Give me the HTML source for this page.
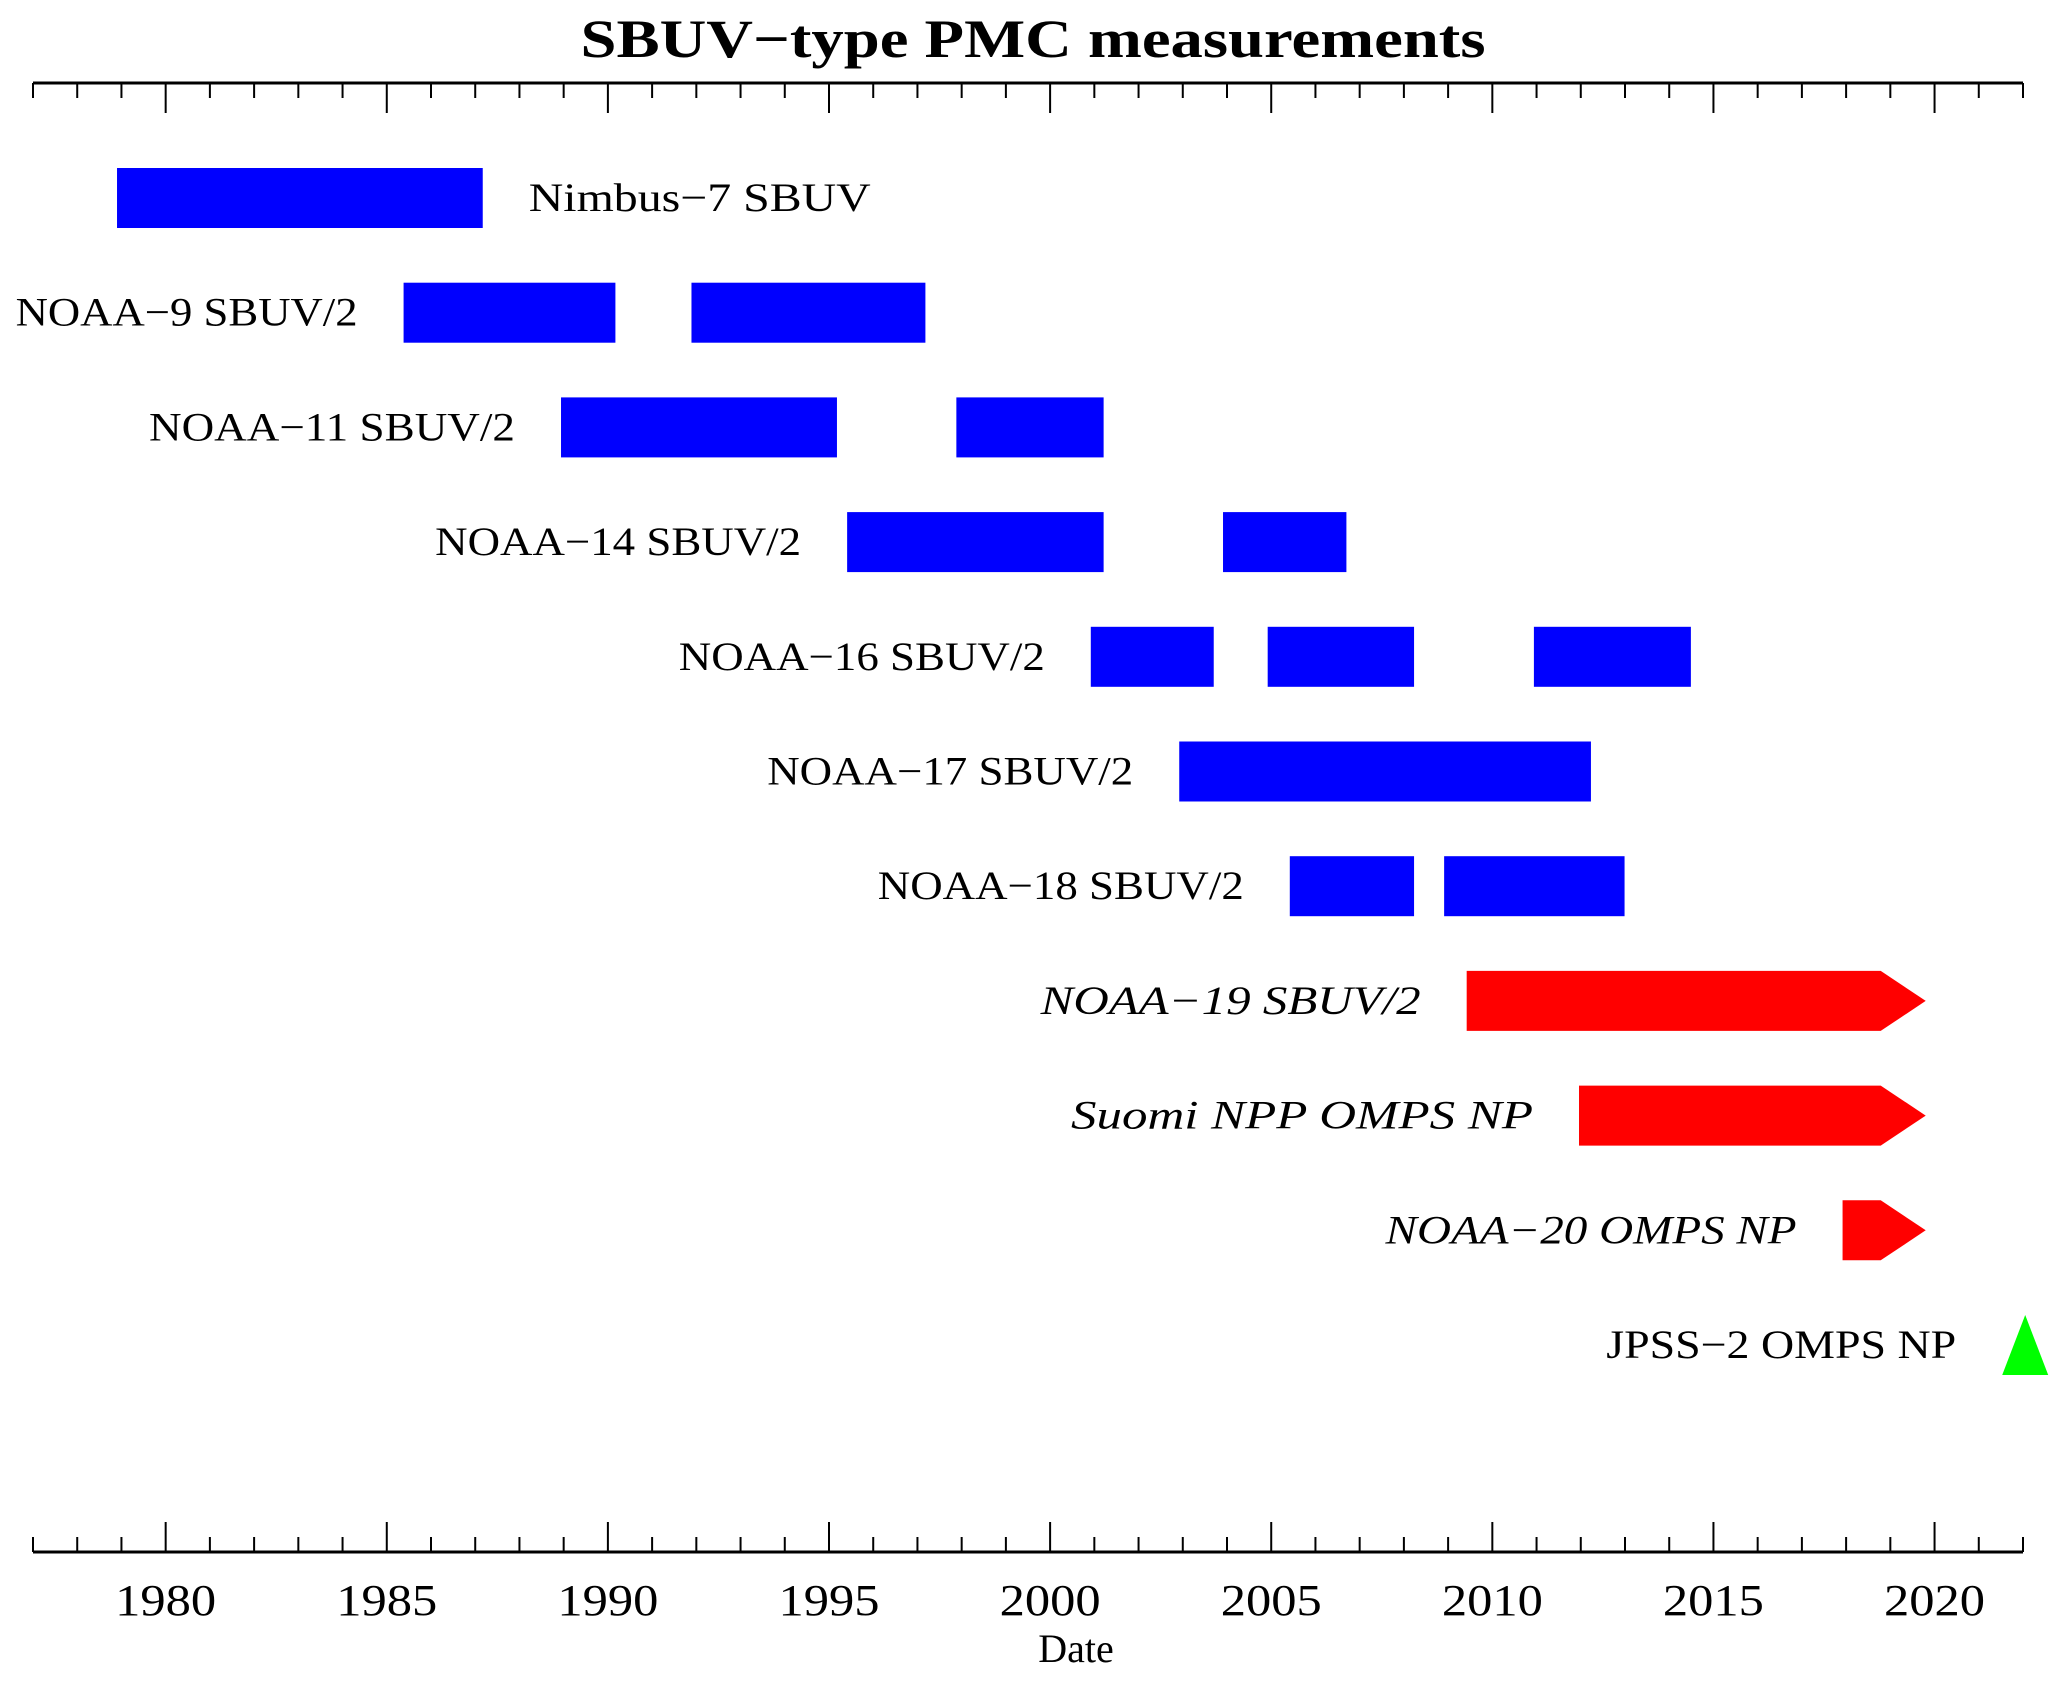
<!DOCTYPE html>
<html><head><meta charset="utf-8"><style>
html,body{margin:0;padding:0;background:#fff;}
svg{display:block;}
text{font-family:"Liberation Serif",serif;fill:#000;}
</style></head><body>
<svg id="chart" width="2067" height="1686" viewBox="0 0 2067 1686">
<text x="1033" y="57" text-anchor="middle" font-size="54" font-weight="bold" textLength="905" lengthAdjust="spacingAndGlyphs">SBUV−type PMC measurements</text>
<g id="axes"></g>
<g id="bars"></g>
<text x="1076" y="1662" text-anchor="middle" font-size="40">Date</text>
</svg>
<script>
const instruments = ["Nimbus−7 SBUV","NOAA−9 SBUV/2","NOAA−11 SBUV/2","NOAA−14 SBUV/2","NOAA−16 SBUV/2","NOAA−17 SBUV/2","NOAA−18 SBUV/2","NOAA−19 SBUV/2","Suomi NPP OMPS NP","NOAA−20 OMPS NP","JPSS−2 OMPS NP"];
const segStarts = [[1978.9],[1985.38,1991.89],[1988.94,1997.88],[1995.41,2003.91],[2000.92,2004.92,2010.94],[2002.92],[2005.42,2008.91],[2009.42],[2011.96],[2017.92],[2022.05]];
const segEnds = [[1987.17],[1990.17,1997.18],[1995.18,2001.21],[2001.21,2006.7],[2003.7,2008.23,2014.49],[2012.23],[2008.23,2012.99],[2019.8],[2019.8],[2019.8],[2022.05]];
const kinds = ["past","past","past","past","past","past","past","ongoing","ongoing","ongoing","future"];
const labelWidths = [342,342,366,366,366,366,366,380,462,411,350];
const tickYears = [1980,1985,1990,1995,2000,2005,2010,2015,2020];

const X0=1977,X1=2022,PX0=33,PX1=2023;
const x = v => PX0 + (v-X0)*(PX1-PX0)/(X1-X0);
const rowY = i => 198 + i*114.7;
const NS="http://www.w3.org/2000/svg";
function mk(tag,attrs,parent){const e=document.createElementNS(NS,tag);for(const k in attrs)e.setAttribute(k,attrs[k]);parent.appendChild(e);return e;}
const axes=document.getElementById('axes'), bars=document.getElementById('bars');

let l=mk('line',{x1:PX0,x2:PX1,y1:83,y2:83,stroke:'#000','stroke-width':3},axes);


l=mk('line',{x1:PX0,x2:PX1,y1:1552,y2:1552,stroke:'#000','stroke-width':3},axes);


for(let yr=X0; yr<=X1; yr++){
  const major = yr%5===0;
  const len = major?30:15, px=x(yr);
  let t=mk('line',{x1:px,x2:px,y1:83,y2:83+len,stroke:'#000','stroke-width':2},axes);
  
  
  t=mk('line',{x1:px,x2:px,y1:1552,y2:1552-len,stroke:'#000','stroke-width':2},axes);
  
  
}
tickYears.forEach(yr=>{
  const t=mk('text',{x:x(yr),y:1615,'text-anchor':'middle','font-size':44,textLength:101,lengthAdjust:'spacingAndGlyphs'},axes);
  t.textContent=yr;
  
  
});

const H=60;
instruments.forEach((name,i)=>{
  const cy=rowY(i), starts=segStarts[i], ends=segEnds[i], kind=kinds[i];
  starts.forEach((s,j)=>{
    const e=ends[j]; let el;
    if(kind==='past'){
      el=mk('rect',{x:x(s),y:cy-H/2,width:x(e)-x(s),height:H,fill:'#0000ff'},bars);
      
    } else if(kind==='ongoing'){
      const tip=x(e), body=tip-45, a=x(s);
      el=mk('polygon',{points:`${a},${cy-H/2} ${body},${cy-H/2} ${tip},${cy} ${body},${cy+H/2} ${a},${cy+H/2}`,fill:'#ff0000'},bars);
      
    } else {
      const cx=x(s);
      el=mk('polygon',{points:`${cx},${cy-30} ${cx+23},${cy+30} ${cx-23},${cy+30}`,fill:'#00ff00'},bars);
      
    }
    
  });
  let t;
  if(i===0){
    t=mk('text',{x:x(ends[0])+46,y:cy+13,'font-size':40,textLength:labelWidths[i],lengthAdjust:'spacingAndGlyphs'},bars);
  } else {
    const sx = kind==='future' ? x(starts[0])-23 : x(starts[0]);
    t=mk('text',{x:sx-46,y:cy+13,'text-anchor':'end','font-size':40,textLength:labelWidths[i],lengthAdjust:'spacingAndGlyphs'},bars);
    if(kind==='ongoing') t.setAttribute('font-style','italic');
  }
  t.textContent=name;
  
  
});
</script>
</body></html>
